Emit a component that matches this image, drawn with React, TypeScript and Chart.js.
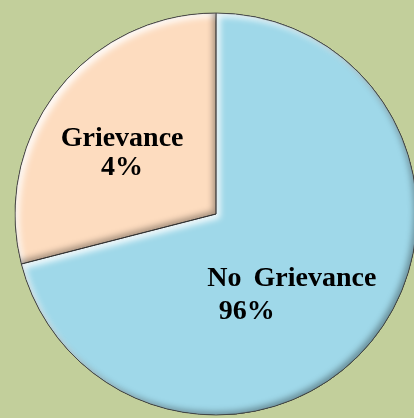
import React, { useEffect, useRef } from "react";
import { Chart, registerables } from "chart.js";

Chart.register(...registerables);

// Data (slice geometry) and the printed labels
const categories = ["No Grievance", "Grievance"];
const sliceValues = [71, 29];
const percentLabels = ["96%", "4%"];

const sliceColors = ["#9fd8e9", "#fddcbf"];
const background = "#c2cf9b";

// label layout: fraction of radius, angle shift (deg), second line offset
const labelFrac = [0.52, 0.577];
const labelShift = [5.7, -1.85];
const secondLineOffset = [
  [-45, 33],
  [0, 29],
];

const bevelPlugin = {
  id: "bevel",
  afterDatasetDraw(chart: any) {
    const ctx = chart.ctx as CanvasRenderingContext2D;
    const meta = chart.getDatasetMeta(0);
    meta.data.forEach((arc: any) => {
      const { x, y, startAngle, endAngle, outerRadius } = arc.getProps(
        ["x", "y", "startAngle", "endAngle", "outerRadius"],
        true
      );
      const path = new Path2D();
      path.moveTo(x, y);
      path.arc(x, y, outerRadius, startAngle, endAngle);
      path.closePath();
      const outer = new Path2D();
      outer.rect(-1000, -1000, 3000, 3000);
      outer.addPath(path);
      const shadows: [string, number, number, number][] = [
        ["rgba(255,255,255,0.9)", 4, 4, 6],
        ["rgba(0,0,0,0.35)", -3, -3, 6],
      ];
      shadows.forEach(([color, ox, oy, blur]) => {
        ctx.save();
        ctx.clip(path);
        ctx.shadowColor = color;
        ctx.shadowOffsetX = ox;
        ctx.shadowOffsetY = oy;
        ctx.shadowBlur = blur;
        ctx.fillStyle = "#000";
        ctx.fill(outer, "evenodd");
        ctx.restore();
      });
      ctx.save();
      ctx.strokeStyle = "rgba(60,60,60,0.8)";
      ctx.lineWidth = 1;
      ctx.stroke(path);
      ctx.restore();
    });
  },
  afterDraw(chart: any) {
    const ctx = chart.ctx as CanvasRenderingContext2D;
    const meta = chart.getDatasetMeta(0);
    meta.data.forEach((arc: any, i: number) => {
      const { x, y, startAngle, endAngle, outerRadius } = arc.getProps(
        ["x", "y", "startAngle", "endAngle", "outerRadius"],
        true
      );
      const mid = (startAngle + endAngle) / 2 + (labelShift[i] * Math.PI) / 180;
      const r = outerRadius * labelFrac[i];
      const lx = x + Math.cos(mid) * r;
      const ly = y + Math.sin(mid) * r;
      ctx.save();
      ctx.fillStyle = "#000";
      ctx.font = "bold 28px 'Liberation Serif'";
      (ctx as any).wordSpacing = "5px";
      ctx.textAlign = "center";
      ctx.textBaseline = "alphabetic";
      ctx.fillText(categories[i], lx, ly);
      ctx.fillText(
        percentLabels[i],
        lx + secondLineOffset[i][0],
        ly + secondLineOffset[i][1]
      );
      ctx.restore();
    });
  },
};

export default function App() {
  const ref = useRef<HTMLCanvasElement>(null);
  useEffect(() => {
    if (!ref.current) return;
    const chart = new Chart(ref.current, {
      type: "pie",
      data: {
        labels: categories,
        datasets: [
          {
            data: sliceValues,
            backgroundColor: sliceColors,
            borderColor: "rgba(60,60,60,0.8)",
            borderWidth: 0,
          },
        ],
      },
      options: {
        responsive: false,
        animation: false,
        devicePixelRatio: 1,
        layout: { padding: { left: 15, top: 13, right: 23, bottom: 3 } },
        plugins: {
          legend: { display: false },
          tooltip: { enabled: false },
        },
      },
      plugins: [bevelPlugin],
    });
    return () => chart.destroy();
  }, []);
  return (
    <div
      style={{
        position: "fixed",
        left: 0,
        top: 0,
        width: 414,
        height: 418,
        overflow: "hidden",
        background,
      }}
    >
      <canvas ref={ref} width={440} height={418} style={{ display: "block" }} />
    </div>
  );
}
